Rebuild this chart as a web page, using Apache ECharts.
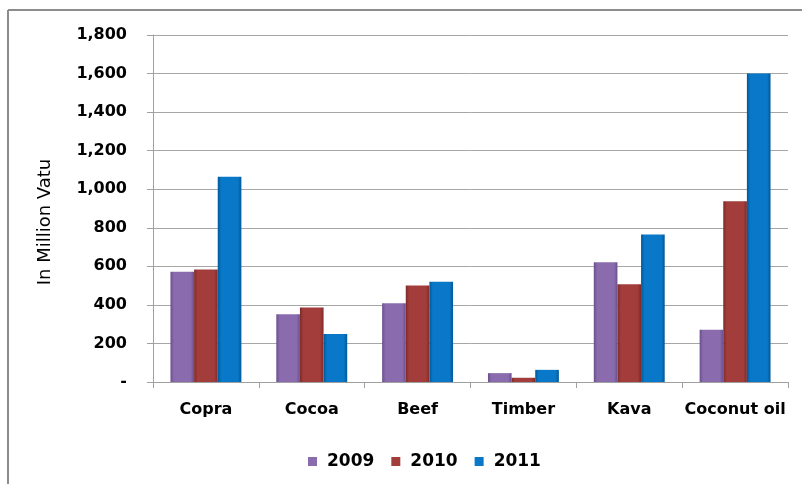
<!DOCTYPE html>
<html><head><meta charset="utf-8">
<script src="https://cdn.jsdelivr.net/npm/echarts@6/dist/echarts.min.js"></script>
<style>html,body{margin:0;padding:0;background:#fff}#c{width:802px;height:484px}</style>
</head><body><div id="c"></div>
<script>
const categories = ['Copra', 'Cocoa', 'Beef', 'Timber', 'Kava', 'Coconut oil'];
const seriesNames = ['2009', '2010', '2011'];
const v2009 = [572, 351, 408, 46, 621, 271];
const v2010 = [584, 387, 500, 22, 507, 938];
const v2011 = [1065, 249, 520, 63, 765, 1600];
const yAxisTitle = 'In Million Vatu';

const palettes = [
  ['#6a4f8c', '#8a6cae', '#6a4f8c'],
  ['#7e2b29', '#a23d3b', '#7e2b29'],
  ['#00599a', '#0a78c8', '#00599a']
];
function grad(p){
  return new echarts.graphic.LinearGradient(0,0,1,0,[
    {offset:0,color:p[0]},{offset:0.15,color:p[1]},{offset:0.85,color:p[1]},{offset:1,color:p[2]}]);
}
const bold = '"DejaVu Sans", sans-serif';
const chart = echarts.init(document.getElementById('c'));
const data = [v2009, v2010, v2011];
chart.setOption({
  animation: false,
  graphic: [
    {type:'line', shape:{x1:8,y1:10,x2:802,y2:10}, style:{stroke:'#8c8c8c', lineWidth:2}, silent:true},
    {type:'line', shape:{x1:8,y1:10,x2:8,y2:484}, style:{stroke:'#8c8c8c', lineWidth:2}, silent:true},
    {type:'text', x:45, y:222, rotation:Math.PI/2, silent:true,
      style:{text:yAxisTitle, font:'18px "DejaVu Sans", sans-serif', fill:'#000', align:'center', verticalAlign:'middle'}}
  ],
  grid: {left:153, right:14, top:35, bottom:102},
  legend: {
    top: 448, left: 303, itemWidth: 9, itemHeight: 9, itemGap: 17,
    textStyle: {fontFamily: bold, fontWeight: 'bold', fontSize: 17, color: '#000', padding:[0,0,0,5]},
    data: seriesNames.map((n,i)=>({name:n, icon:'rect', itemStyle:{color:palettes[i][1]}}))
  },
  xAxis: {
    type: 'category', data: categories,
    axisLine: {lineStyle: {color: '#a0a0a0'}},
    axisTick: {show: true, length: 6, lineStyle: {color: '#a0a0a0'}},
    axisLabel: {interval: 0, fontFamily: bold, fontWeight: 'bold', fontSize: 16, color: '#000', margin: 20}
  },
  yAxis: {
    type: 'value', min: 0, max: 1800, interval: 200,
    axisLine: {show: true, lineStyle: {color: '#a0a0a0'}},
    axisTick: {show: true, length: 6, lineStyle: {color: '#a0a0a0'}},
    splitLine: {lineStyle: {color: '#a6a6a6'}},
    axisLabel: {fontFamily: bold, fontWeight: 'bold', fontSize: 16, color: '#000', margin: 26,
      formatter: v => v === 0 ? '-' : v.toLocaleString('en-US')}
  },
  series: seriesNames.map((n,i)=>({
    name: n, type: 'bar', data: data[i], barGap: '0%', barCategoryGap: '33%',
    itemStyle: {color: grad(palettes[i])}
  }))
});
</script></body></html>
